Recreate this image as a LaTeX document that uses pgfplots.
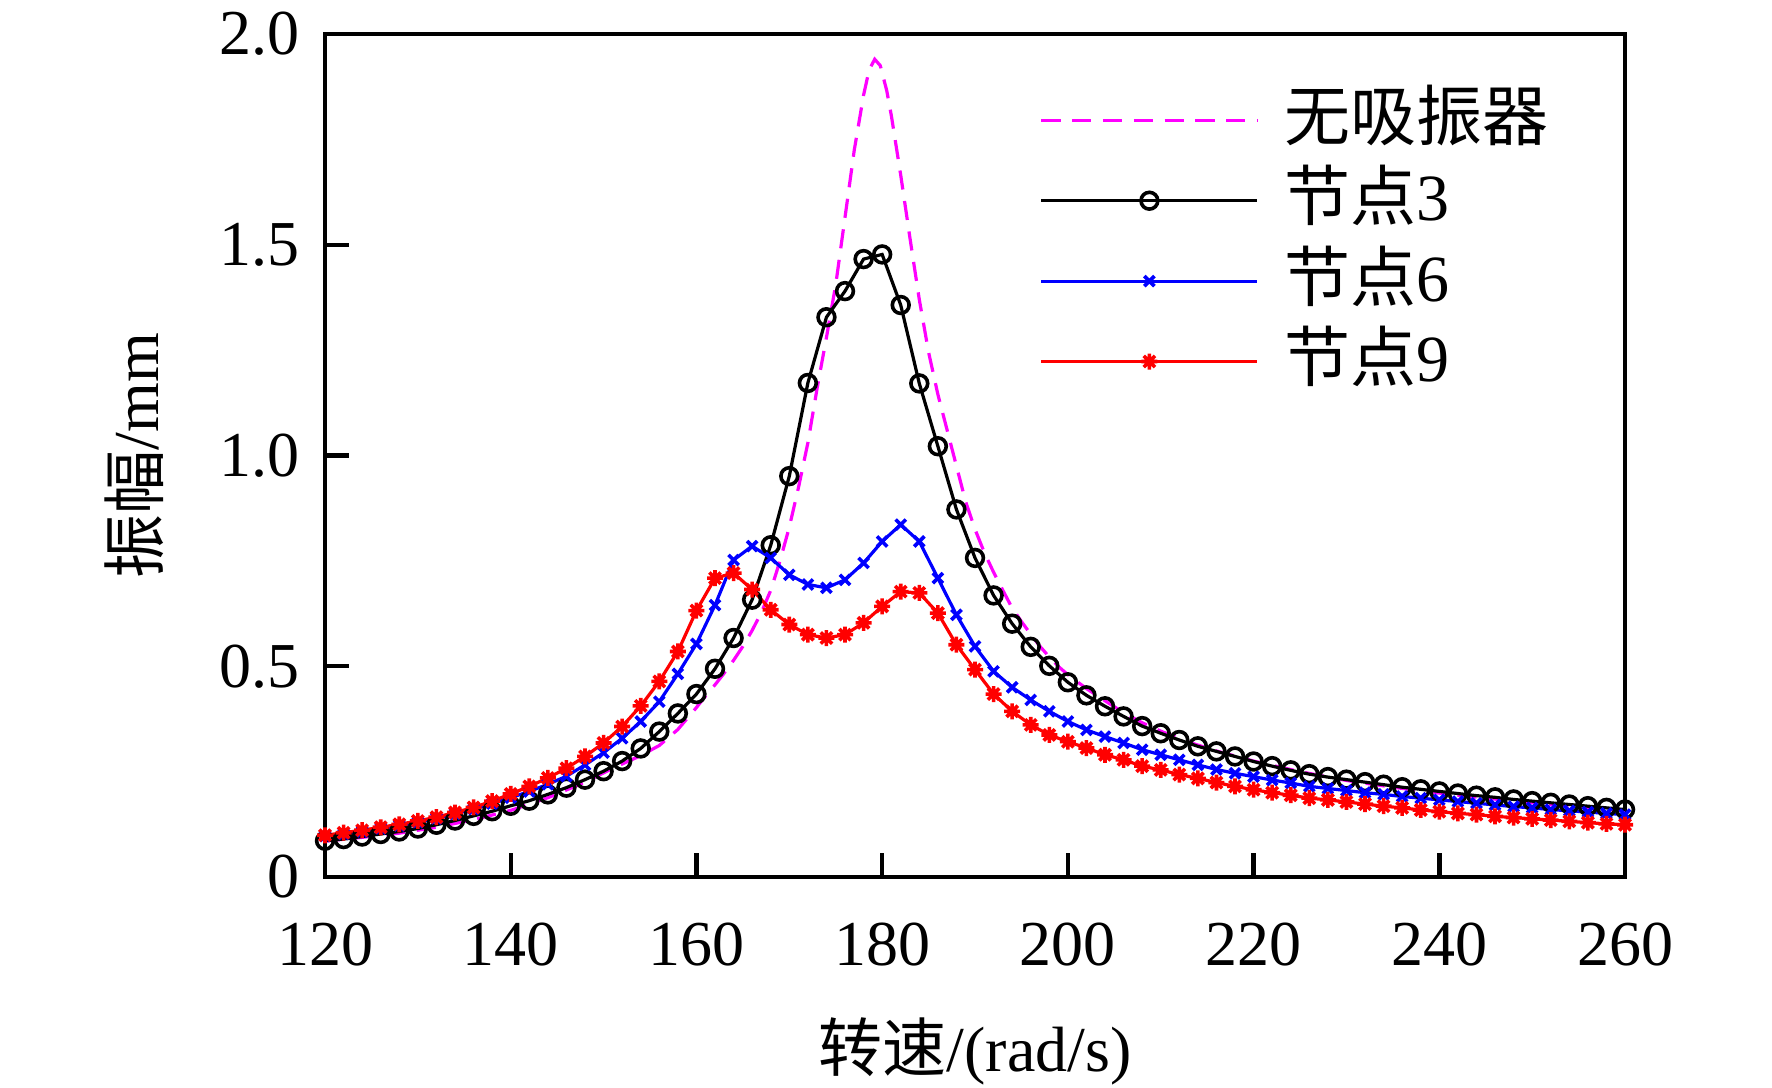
\documentclass[border=0pt]{standalone}
\usepackage{fontspec}
\setmainfont{Liberation Serif}
\newfontfamily\cjk{Noto Sans CJK SC}
\usepackage{pgfplots}
\pgfplotsset{compat=1.18}
\definecolor{mag}{RGB}{255,0,255}
\pgfdeclareplotmark{matstar}{%
  \pgfpathmoveto{\pgfqpoint{0pt}{\pgfplotmarksize}}\pgfpathlineto{\pgfqpoint{0pt}{-\pgfplotmarksize}}%
  \pgfpathmoveto{\pgfqpoint{\pgfplotmarksize}{0pt}}\pgfpathlineto{\pgfqpoint{-\pgfplotmarksize}{0pt}}%
  \pgfpathmoveto{\pgfqpoint{0.707\pgfplotmarksize}{0.707\pgfplotmarksize}}\pgfpathlineto{\pgfqpoint{-0.707\pgfplotmarksize}{-0.707\pgfplotmarksize}}%
  \pgfpathmoveto{\pgfqpoint{-0.707\pgfplotmarksize}{0.707\pgfplotmarksize}}\pgfpathlineto{\pgfqpoint{0.707\pgfplotmarksize}{-0.707\pgfplotmarksize}}%
  \pgfusepathqstroke}
\begin{document}
\begin{tikzpicture}
\useasboundingbox (-81.25pt,-52.75pt) rectangle (361.75pt,219.25pt);
\begin{axis}[
  at={(0pt,0pt)}, anchor=south west,
  scale only axis, width=325pt, height=210.75pt,
  xmin=120, xmax=260, ymin=0, ymax=2,
  xtick={120,140,...,260},
  ytick={0,0.5,1,1.5,2},
  yticklabels={0,0.5,1.0,1.5,2.0},
  tick align=inside, xtick pos=bottom, ytick pos=left,
  major tick length=6pt,
  axis line style={line width=1.1pt},
  major tick style={line width=1.1pt, black},
  /pgf/number format/assume math mode=true,
  tick label style={font=\fontsize{16}{19}\selectfont},
  xticklabel style={anchor=center, yshift=-17pt},
  yticklabel style={anchor=east, inner sep=0pt, xshift=-6.25pt},
  xlabel={{\cjk 转速}/(rad/s)},
  ylabel={{\cjk 振幅}/mm},
  label style={font=\fontsize{16}{19}\selectfont},
  xlabel style={at={(axis description cs:0.5,-0.2064)}, anchor=center},
  ylabel style={at={(axis description cs:-0.147,0.5)}, anchor=center},
  legend style={at={(axis description cs:0.540,0.946)}, anchor=north west,
    draw=none, fill=none, font=\fontsize{16.5}{19.5}\selectfont,
    row sep=4.1pt,
    nodes={inner sep=0pt, text height=13pt, text depth=3pt},
    /tikz/every odd column/.append style={column sep=6.4pt}},
  legend cell align=left,
  legend image code/.code={\draw[mark repeat=2,mark phase=2,#1] plot coordinates {(0pt,0pt) (27pt,0pt) (54pt,0pt)};},
]
\addplot[mag, line width=0.8pt, dash pattern=on 4.8pt off 2.9pt] coordinates {
(120,0.085)(124,0.094)(128,0.104)(132,0.118)(136,0.136)(140,0.158)(144,0.188)(148,0.225)
(151,0.258)(154,0.288)(156,0.312)(158,0.350)(160,0.402)(161,0.430)(162,0.456)(163,0.484)
(164,0.514)(165,0.547)(166,0.585)(167,0.628)(168,0.680)(169,0.750)(170,0.830)(171,0.925)
(172,1.030)(173,1.160)(174,1.280)(175,1.405)(176,1.565)(177,1.725)(178,1.855)(178.6,1.915)
(179.2,1.940)(179.8,1.925)(180.5,1.865)(181,1.805)(182,1.665)(183,1.515)(184,1.370)(185,1.245)
(186,1.145)(187,1.060)(188,0.975)(189,0.890)(190,0.825)(191,0.770)(192,0.723)(193,0.680)
(194,0.638)(195,0.606)(196,0.576)(197,0.547)(198,0.522)(199,0.499)(200,0.480)(202,0.447)
(204,0.418)(206,0.390)(208,0.366)(210,0.346)(213,0.320)(216,0.299)(220,0.275)(225,0.250)
(230,0.229)(235,0.213)(240,0.199)(245,0.187)(250,0.176)(255,0.166)(260,0.157)};
\addlegendentry{{\cjk 无吸振器}}
\addplot[black, line width=0.8pt, mark=o, mark size=2.1pt, mark options={solid, line width=0.9pt}] coordinates {
(120,0.086)(122,0.090)(124,0.096)(126,0.102)(128,0.108)(130,0.115)(132,0.124)(134,0.134)
(136,0.145)(138,0.156)(140,0.169)(142,0.181)(144,0.196)(146,0.212)(148,0.231)(150,0.251)
(152,0.275)(154,0.305)(156,0.345)(158,0.388)(160,0.434)(162,0.494)(164,0.567)(166,0.658)
(168,0.787)(170,0.951)(172,1.172)(174,1.328)(176,1.390)(178,1.466)(180,1.477)(182,1.357)
(184,1.171)(186,1.022)(188,0.872)(190,0.757)(192,0.668)(194,0.601)(196,0.546)(198,0.501)
(200,0.462)(202,0.431)(204,0.405)(206,0.381)(208,0.358)(210,0.341)(212,0.325)(214,0.310)
(216,0.298)(218,0.286)(220,0.274)(222,0.263)(224,0.253)(226,0.244)(228,0.237)(230,0.231)
(232,0.225)(234,0.219)(236,0.213)(238,0.208)(240,0.203)(242,0.198)(244,0.193)(246,0.189)
(248,0.184)(250,0.180)(252,0.176)(254,0.172)(256,0.168)(258,0.164)(260,0.160)};
\addlegendentry{{\cjk 节点}3}
\addplot[blue, line width=0.8pt, mark=x, mark size=1.8pt, mark options={solid, line width=0.9pt}] coordinates {
(120,0.097)(122,0.102)(124,0.108)(126,0.115)(128,0.122)(130,0.130)(132,0.139)(134,0.150)
(136,0.161)(138,0.174)(140,0.188)(142,0.203)(144,0.220)(146,0.239)(148,0.266)(150,0.295)
(152,0.329)(154,0.369)(156,0.416)(158,0.482)(160,0.553)(162,0.645)(164,0.752)(166,0.785)
(168,0.757)(170,0.717)(172,0.694)(174,0.686)(176,0.705)(178,0.745)(180,0.796)(182,0.836)
(184,0.796)(186,0.709)(188,0.622)(190,0.547)(192,0.488)(194,0.450)(196,0.420)(198,0.393)
(200,0.369)(202,0.349)(204,0.333)(206,0.318)(208,0.302)(210,0.290)(212,0.278)(214,0.266)
(216,0.255)(218,0.246)(220,0.238)(222,0.230)(224,0.223)(226,0.215)(228,0.210)(230,0.205)
(232,0.200)(234,0.196)(236,0.191)(238,0.187)(240,0.183)(242,0.179)(244,0.175)(246,0.171)
(248,0.167)(250,0.164)(252,0.160)(254,0.157)(256,0.154)(258,0.151)(260,0.148)};
\addlegendentry{{\cjk 节点}6}
\addplot[red, line width=0.8pt, mark=matstar, mark size=2.0pt, mark options={solid, line width=0.9pt}] coordinates {
(120,0.099)(122,0.105)(124,0.111)(126,0.118)(128,0.125)(130,0.133)(132,0.142)(134,0.153)
(136,0.165)(138,0.180)(140,0.197)(142,0.215)(144,0.235)(146,0.258)(148,0.286)(150,0.318)
(152,0.357)(154,0.406)(156,0.464)(158,0.535)(160,0.632)(162,0.709)(164,0.721)(166,0.682)
(168,0.634)(170,0.599)(172,0.575)(174,0.567)(176,0.575)(178,0.603)(180,0.642)(182,0.677)
(184,0.674)(186,0.626)(188,0.551)(190,0.492)(192,0.434)(194,0.393)(196,0.361)(198,0.337)
(200,0.321)(202,0.306)(204,0.290)(206,0.278)(208,0.263)(210,0.254)(212,0.243)(214,0.234)
(216,0.224)(218,0.215)(220,0.207)(222,0.200)(224,0.194)(226,0.187)(228,0.183)(230,0.178)
(232,0.173)(234,0.168)(236,0.164)(238,0.159)(240,0.155)(242,0.151)(244,0.148)(246,0.144)
(248,0.141)(250,0.138)(252,0.135)(254,0.132)(256,0.129)(258,0.126)(260,0.124)};
\addlegendentry{{\cjk 节点}9}
\end{axis}
\end{tikzpicture}
\end{document}
